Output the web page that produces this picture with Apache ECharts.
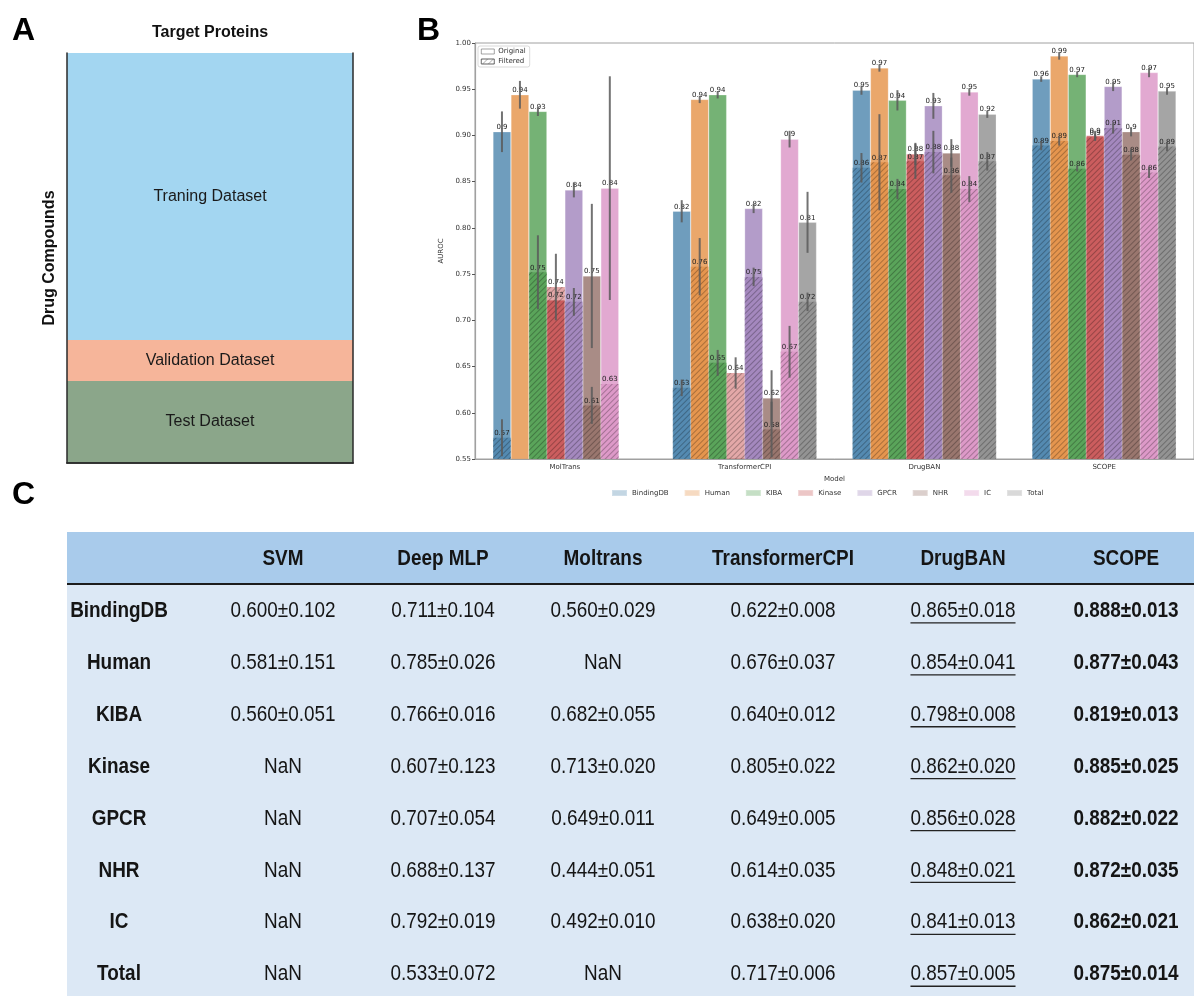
<!DOCTYPE html>
<html>
<head>
<meta charset="utf-8">
<title>AUROC comparison</title>
<script src="https://cdn.jsdelivr.net/npm/echarts@6.0.0/dist/echarts.min.js"></script>
<style>
  html, body { margin: 0; padding: 0; background: #fff; }
  #main { width: 1194px; height: 996px; }
</style>
</head>
<body>
<div id="main"></div>
<script>
// ---- panel A: how the data is split
var splitNames = ['Test Dataset', 'Validation Dataset', 'Traning Dataset'];
var splitShares = [0.2, 0.1, 0.7];
var splitColors = ['#8ba68a', '#f6b59a', '#a3d6f1'];

// ---- panel B: AUROC per model, original vs filtered test sets
var models = ['MolTrans', 'TransformerCPI', 'DrugBAN', 'SCOPE'];
var datasets = ['BindingDB', 'Human', 'KIBA', 'Kinase', 'GPCR', 'NHR', 'IC', 'Total'];
// seaborn-desaturated tab10
var palette = ['#3274a1', '#e1812c', '#3a923a', '#c03d3e', '#9372b2', '#845b53', '#d684bd', '#7f7f7f'];

// bar heights, one value per dataset (same order as datasets)
var origMolTrans = [0.904, 0.944, 0.926, 0.722, 0.841, 0.748, 0.843, null];
var origTransformerCPI = [0.818, 0.939, 0.944, null, 0.821, 0.616, 0.896, 0.806];
var origDrugBAN = [0.949, 0.973, 0.938, 0.880, 0.932, 0.881, 0.947, 0.923];
var origSCOPE = [0.961, 0.986, 0.966, 0.900, 0.953, 0.904, 0.968, 0.948];

var filtMolTrans = [0.573, null, 0.752, 0.736, 0.720, 0.608, 0.631, null];
var filtTransformerCPI = [0.627, 0.758, 0.654, 0.643, 0.747, 0.582, 0.666, 0.720];
var filtDrugBAN = [0.865, 0.871, 0.842, 0.872, 0.882, 0.857, 0.842, 0.872];
var filtSCOPE = [0.889, 0.894, 0.864, 0.898, 0.908, 0.879, 0.860, 0.888];

// half length of the error bars
var errOrigMolTrans = [0.022, 0.015, 0.005, 0, 0.008, 0.078, 0.121, null];
var errOrigTransformerCPI = [0.012, 0.004, 0.004, null, 0.005, 0.030, 0.009, 0.033];
var errOrigDrugBAN = [0.005, 0.004, 0.011, 0.012, 0.014, 0.015, 0.004, 0.004];
var errOrigSCOPE = [0.003, 0.004, 0.003, 0.005, 0.005, 0.005, 0.005, 0.004];

var errFiltMolTrans = [0.020, null, 0.040, 0.036, 0.015, 0.020, 0, null];
var errFiltTransformerCPI = [0.009, 0.031, 0.014, 0.017, 0.010, 0.030, 0.028, 0.010];
var errFiltDrugBAN = [0.016, 0.052, 0.011, 0.019, 0.023, 0.019, 0.014, 0.010];
var errFiltSCOPE = [0.005, 0.005, 0.003, 0.004, 0.006, 0.006, 0.006, 0.005];

// ---- panel C: table
var tableColumns = ['SVM', 'Deep MLP', 'Moltrans', 'TransformerCPI', 'DrugBAN', 'SCOPE'];
var tableRows = ['BindingDB', 'Human', 'KIBA', 'Kinase', 'GPCR', 'NHR', 'IC', 'Total'];
var svmAuroc = ['0.600±0.102', '0.581±0.151', '0.560±0.051', 'NaN', 'NaN', 'NaN', 'NaN', 'NaN'];
var deepMlpAuroc = ['0.711±0.104', '0.785±0.026', '0.766±0.016', '0.607±0.123', '0.707±0.054', '0.688±0.137', '0.792±0.019', '0.533±0.072'];
var moltransAuroc = ['0.560±0.029', 'NaN', '0.682±0.055', '0.713±0.020', '0.649±0.011', '0.444±0.051', '0.492±0.010', 'NaN'];
var transformerCpiAuroc = ['0.622±0.008', '0.676±0.037', '0.640±0.012', '0.805±0.022', '0.649±0.005', '0.614±0.035', '0.638±0.020', '0.717±0.006'];
var drugBanAuroc = ['0.865±0.018', '0.854±0.041', '0.798±0.008', '0.862±0.020', '0.856±0.028', '0.848±0.021', '0.841±0.013', '0.857±0.005'];
var scopeAuroc = ['0.888±0.013', '0.877±0.043', '0.819±0.013', '0.885±0.025', '0.882±0.022', '0.872±0.035', '0.862±0.021', '0.875±0.014'];

var origByModel = [origMolTrans, origTransformerCPI, origDrugBAN, origSCOPE];
var filtByModel = [filtMolTrans, filtTransformerCPI, filtDrugBAN, filtSCOPE];
var errOrigByModel = [errOrigMolTrans, errOrigTransformerCPI, errOrigDrugBAN, errOrigSCOPE];
var errFiltByModel = [errFiltMolTrans, errFiltTransformerCPI, errFiltDrugBAN, errFiltSCOPE];
var tableColumnsData = [svmAuroc, deepMlpAuroc, moltransAuroc, transformerCpiAuroc, drugBanAuroc, scopeAuroc];

function rgba(hex, a) {
    var n = parseInt(hex.slice(1), 16);
    return 'rgba(' + (n >> 16) + ',' + ((n >> 8) & 255) + ',' + (n & 255) + ',' + a + ')';
}

var plotFont = 'DejaVu Sans';
var tableFont = '"Liberation Sans", Arial, sans-serif';
var narrow = 0.86; // squeeze Liberation Sans toward the narrow face of the original table
var hatch = {
    symbol: 'rect', symbolSize: 1, color: 'rgba(0,0,0,0.26)',
    dashArrayX: [1, 0], dashArrayY: [1, 3], rotation: -Math.PI / 4
};

var barLabel = {
    show: true, position: 'top', distance: 1,
    fontSize: 7, fontFamily: plotFont, color: '#222',
    formatter: function (p) { return String(+p.value.toFixed(2)); }
};

var series = [];

// panel A stacked bar
splitNames.forEach(function (name, i) {
    series.push({
        type: 'bar', name: name, stack: 'split',
        xAxisIndex: 0, yAxisIndex: 0,
        barWidth: '100%', silent: true,
        data: [splitShares[i]],
        itemStyle: { color: splitColors[i] },
        label: {
            show: true, position: 'inside', formatter: name,
            fontSize: 16, fontFamily: 'Liberation Sans', color: '#1a1a1a'
        }
    });
});

// panel B original bars
datasets.forEach(function (name, i) {
    series.push({
        type: 'bar', name: name,
        xAxisIndex: 2, yAxisIndex: 2,
        barGap: '0%', barCategoryGap: '20%',
        data: origByModel.map(function (a) { return a[i]; }),
        itemStyle: { color: rgba(palette[i], 0.7), borderColor: 'rgba(255,255,255,0.5)', borderWidth: 0.5 },
        label: barLabel
    });
});

// panel B filtered bars, on a twin axis so they sit over the originals
datasets.forEach(function (name, i) {
    series.push({
        type: 'bar', name: name,
        xAxisIndex: 3, yAxisIndex: 2,
        barGap: '0%', barCategoryGap: '20%',
        data: filtByModel.map(function (a) { return a[i]; }),
        itemStyle: { color: rgba(palette[i], 0.45), decal: hatch },
        label: barLabel
    });
});

// legend-only entries
series.push({ type: 'line', name: 'Original', xAxisIndex: 2, yAxisIndex: 2, data: [] });
series.push({ type: 'line', name: 'Filtered', xAxisIndex: 2, yAxisIndex: 2, data: [] });

function errData(valsByModel, errByModel) {
    var out = [];
    valsByModel.forEach(function (vals, m) {
        vals.forEach(function (v, d) {
            var e = errByModel[m][d];
            if (v != null && e) out.push([m, d, v, e]);
        });
    });
    return out;
}

function renderErr(params, api) {
    var v = api.value(2), e = api.value(3);
    var band = api.size([1, 0])[0];
    var bw = band * 0.8 / datasets.length;
    var hi = api.coord([api.value(0), v + e]);
    var lo = api.coord([api.value(0), v - e]);
    var x = hi[0] + (api.value(1) - (datasets.length - 1) / 2) * bw;
    return {
        type: 'line',
        shape: { x1: x, y1: hi[1], x2: x, y2: lo[1] },
        style: { stroke: 'rgba(90,90,90,0.85)', lineWidth: 2 }
    };
}

[errData(origByModel, errOrigByModel), errData(filtByModel, errFiltByModel)].forEach(function (d) {
    series.push({
        type: 'custom', xAxisIndex: 2, yAxisIndex: 2, z: 3, clip: true, silent: true,
        encode: { x: 0, y: 2 },
        renderItem: renderErr,
        data: d
    });
});

// ---- table (panel C) drawn as graphic elements
var tLeft = 67, tTop = 532, tRight = 1194, headH = 52, rowH = 51.9;
var colX = [119, 283, 443, 603, 783, 963, 1126];
var g = [];
g.push({ type: 'rect', shape: { x: tLeft, y: tTop, width: tRight - tLeft, height: headH }, style: { fill: '#a9cbeb' } });
g.push({ type: 'rect', shape: { x: tLeft, y: tTop + headH, width: tRight - tLeft, height: 996 - tTop - headH }, style: { fill: '#dce8f5' } });
g.push({ type: 'line', shape: { x1: tLeft, y1: tTop + headH, x2: tRight, y2: tTop + headH }, style: { stroke: '#1c1c1c', lineWidth: 2 } });

function cell(text, x, y, font) {
    return { type: 'text', x: x, y: y, scaleX: narrow,
        style: { text: text, font: font, fill: '#151515', align: 'center', verticalAlign: 'middle' } };
}

var measure = document.createElement('canvas').getContext('2d');
tableColumns.forEach(function (c, j) {
    g.push(cell(c, colX[j + 1], tTop + headH / 2 + 1, 'bold 22px ' + tableFont));
});
tableRows.forEach(function (r, i) {
    var y = tTop + headH + rowH * (i + 0.5) + 1;
    g.push(cell(r, colX[0], y, 'bold 22px ' + tableFont));
    tableColumnsData.forEach(function (col, j) {
        var font = (j === 5 ? 'bold ' : '') + '22px ' + tableFont;
        g.push(cell(col[i], colX[j + 1], y, font));
        if (j === 4) {
            // runner-up column is underlined
            measure.font = font;
            var w = measure.measureText(col[i]).width * narrow;
            g.push({ type: 'line', shape: { x1: colX[j + 1] - w / 2, y1: y + 12, x2: colX[j + 1] + w / 2, y2: y + 12 },
                style: { stroke: '#222', lineWidth: 1.3 } });
        }
    });
});

['A', 'B', 'C'].forEach(function (t, i) {
    var pos = [[12, 31], [417, 31], [12, 495]][i];
    g.push({ type: 'text', x: pos[0], y: pos[1],
        style: { text: t, font: 'bold 32px "Liberation Sans", Arial', fill: '#000', verticalAlign: 'middle' } });
});

var chart = echarts.init(document.getElementById('main'));
chart.setOption({
    backgroundColor: '#fff',
    animation: false,
    grid: [
        { left: 67, top: 53, width: 286, height: 410 },
        { left: 475, top: 43, width: 727, height: 416, show: true, borderColor: '#a0a0a0', borderWidth: 1 }
    ],
    legend: [
        {
            data: [
                { name: 'Original', icon: 'rect', itemStyle: { color: '#fff', borderColor: '#666', borderWidth: 0.6 } },
                { name: 'Filtered', icon: 'rect', itemStyle: { color: '#fff', borderColor: '#666', borderWidth: 0.6, decal: hatch } }
            ],
            orient: 'vertical', left: 478, top: 46, padding: [2, 4, 2, 3],
            itemWidth: 13, itemHeight: 5, itemGap: 3,
            borderColor: '#cfcfcf', borderWidth: 0.8, borderRadius: 2, backgroundColor: '#fff',
            selectedMode: false,
            textStyle: { fontSize: 7, fontFamily: plotFont, color: '#333', padding: [0, 0, 0, -1] }
        },
        {
            data: datasets.map(function (d) { return { name: d, icon: 'rect', itemStyle: { opacity: 0.42, decal: 'none' } }; }),
            left: 611, top: 489, padding: 0, itemWidth: 15, itemHeight: 6, itemGap: 15,
            selectedMode: false,
            textStyle: { fontSize: 7, fontFamily: plotFont, color: '#333' }
        }
    ],
    xAxis: [
        { gridIndex: 0, type: 'category', data: [''], position: 'top', z: 5,
          name: 'Target Proteins', nameLocation: 'middle', nameGap: 12,
          nameTextStyle: { fontSize: 16, fontWeight: 'bold', fontFamily: 'Liberation Sans', color: '#111' },
          axisLine: { lineStyle: { color: '#2a2a2a', width: 1.5 } }, axisTick: { show: false }, axisLabel: { show: false } },
        { gridIndex: 0, type: 'category', data: [''], position: 'bottom', z: 5,
          axisLine: { lineStyle: { color: '#2a2a2a', width: 1.5 } }, axisTick: { show: false }, axisLabel: { show: false } },
        { gridIndex: 1, type: 'category', data: models, z: 5,
          name: 'Model', nameLocation: 'middle', nameGap: 17,
          nameTextStyle: { fontSize: 7, fontFamily: plotFont, color: '#333' },
          axisLine: { lineStyle: { color: '#a0a0a0', width: 1.2 } },
          axisTick: { alignWithLabel: true, length: 3, lineStyle: { color: '#555' } },
          axisLabel: { fontSize: 7, fontFamily: plotFont, color: '#333', margin: 5 } },
        { gridIndex: 1, type: 'category', data: models, show: false }
    ],
    yAxis: [
        { gridIndex: 0, type: 'value', min: 0, max: 1, z: 5,
          name: 'Drug Compounds', nameLocation: 'middle', nameRotate: 90, nameGap: 9,
          nameTextStyle: { fontSize: 16, fontWeight: 'bold', fontFamily: 'Liberation Sans', color: '#111' },
          axisLine: { show: true, lineStyle: { color: '#2a2a2a', width: 1.5 } },
          axisTick: { show: false }, axisLabel: { show: false }, splitLine: { show: false } },
        { gridIndex: 0, type: 'value', min: 0, max: 1, position: 'right', z: 5,
          axisLine: { show: true, lineStyle: { color: '#2a2a2a', width: 1.5 } },
          axisTick: { show: false }, axisLabel: { show: false }, splitLine: { show: false } },
        { gridIndex: 1, type: 'value', min: 0.55, max: 1.0, interval: 0.05, z: 5,
          name: 'AUROC', nameLocation: 'middle', nameRotate: 90, nameGap: 16,
          nameTextStyle: { fontSize: 7, fontFamily: plotFont, color: '#333' },
          axisLine: { show: true, lineStyle: { color: '#a0a0a0', width: 1.2 } },
          axisTick: { show: true, length: 3, lineStyle: { color: '#555' } },
          axisLabel: { fontSize: 7, fontFamily: plotFont, color: '#333', margin: 4,
                       formatter: function (v) { return v.toFixed(2); } },
          splitLine: { show: false } }
    ],
    graphic: { elements: g },
    series: series
});
</script>
</body>
</html>
